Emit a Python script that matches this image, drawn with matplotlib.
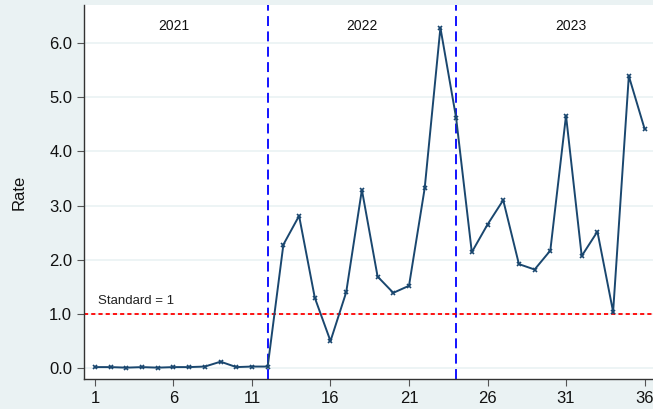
import matplotlib.pyplot as plt

plt.rcParams['font.family'] = ['Liberation Sans', 'DejaVu Sans']

months = list(range(1, 37))
rate = [0.02, 0.02, 0.01, 0.02, 0.01, 0.02, 0.02, 0.03, 0.12, 0.02, 0.03, 0.03,
        2.28, 2.81, 1.30, 0.50, 1.40, 3.29, 1.69, 1.39, 1.52, 3.32, 6.28, 4.62,
        2.14, 2.65, 3.10, 1.92, 1.82, 2.17, 4.66, 2.07, 2.52, 1.04, 5.39, 4.42]
year_breaks = [12, 24]
year_labels = ['2021', '2022', '2023']
year_label_x = [6, 18, 31.3]
standard = 1.0
yticks = [0.0, 1.0, 2.0, 3.0, 4.0, 5.0, 6.0]
xticks = [1, 6, 11, 16, 21, 26, 31, 36]

bg = '#eaf2f3'
fig = plt.figure(figsize=(6.53, 4.09), dpi=100, facecolor=bg)
ax = fig.add_axes([0.1286, 0.0733, 0.8714, 0.9145])
ax.set_facecolor('white')

for y in yticks:
    ax.axhline(y, color=bg, lw=1.2, zorder=0)

ax.plot(months, rate, color='#1a476f', lw=1.4, marker='x', ms=3.5, mew=1.2, zorder=3)

for xb in year_breaks:
    ax.axvline(xb, color='#0000ff', lw=1.3, ls=(0, (5.5, 3)), zorder=2)
ax.axhline(standard, color='#ff0000', lw=1.3, ls=(0, (2.3, 1.7)), zorder=2)

ax.text(1.2, 1.24, 'Standard = 1', fontsize=9.5, color='#222222', va='center')
for lab, xl in zip(year_labels, year_label_x):
    ax.text(xl, 6.31, lab, fontsize=10, color='#111111', ha='center', va='center')

ax.set_xlim(0.3, 36.54)
ax.set_ylim(-0.2, 6.7)
ax.set_xticks(xticks)
ax.set_yticks(yticks)
ax.set_yticklabels([f'{v:.1f}' for v in yticks])
ax.tick_params(axis='both', labelsize=12, direction='out', length=5, color='#555555',
               labelcolor='#111111')
ax.set_ylabel('Rate', fontsize=12, labelpad=16, color='#111111')

for s in ['top', 'right']:
    ax.spines[s].set_visible(False)
for s in ['left', 'bottom']:
    ax.spines[s].set_color('#333333')
    ax.spines[s].set_linewidth(1.0)

fig.savefig('out.png', dpi=100, facecolor=bg)
